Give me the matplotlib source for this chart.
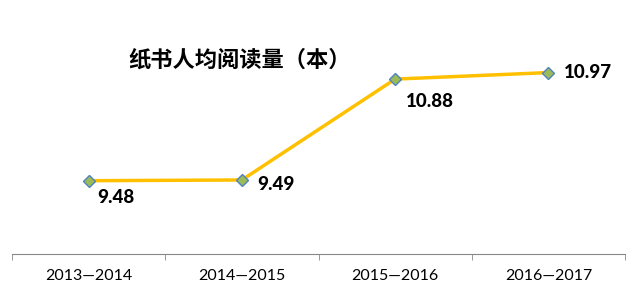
import matplotlib.pyplot as plt
import numpy as np

plt.rcParams['font.family'] = ['Noto Sans CJK SC', 'DejaVu Sans']

periodos = ['2013—2014', '2014—2015', '2015—2016', '2016—2017']
lectura = [9.48, 9.49, 10.88, 10.97]
titulo = '纸书人均阅读量（本）'

fig = plt.figure(figsize=(6.4, 2.96), dpi=100)
ax = fig.add_axes([12 / 640, 42 / 296, 613 / 640, 254 / 296])

x = np.arange(len(periodos))
ax.plot(x, lectura, color='#FFC000', lw=2.5, marker='D', ms=6,
        mfc='#9BBB59', mec='#4F81BD', mew=1)

# posicion de cada etiqueta (desplazamiento en puntos)
desplaz = [(6, -12), (11, -3), (8, -16), (11, 0)]
for xi, v, d in zip(x, lectura, desplaz):
    ax.annotate(f'{v:.2f}', (xi, v), xytext=d, textcoords='offset points',
                ha='left', va='center', fontsize=13.5, fontweight=900,
                family=['Lato', 'DejaVu Sans'])

ax.set_xlim(-0.5, 3.5)
ax.set_ylim(8.47, 11.97)
ax.set_yticks([])
ax.set_xticks(x)
ax.set_xticklabels(periodos, fontsize=11.5, family=['Lato', 'Noto Sans CJK SC'])
ax.set_xticks([-0.5, 0.5, 1.5, 2.5, 3.5], minor=True)
ax.tick_params(axis='x', which='major', length=0, pad=11)
ax.tick_params(axis='x', which='minor', length=4, color='#888888', direction='out')
for lado in ['top', 'right', 'left']:
    ax.spines[lado].set_visible(False)
ax.spines['bottom'].set_color('#888888')

fig.text(240 / 640, 1 - 60 / 296, titulo, ha='center', va='center',
         fontsize=16, fontweight='bold')

fig.savefig('out.png', dpi=100)
